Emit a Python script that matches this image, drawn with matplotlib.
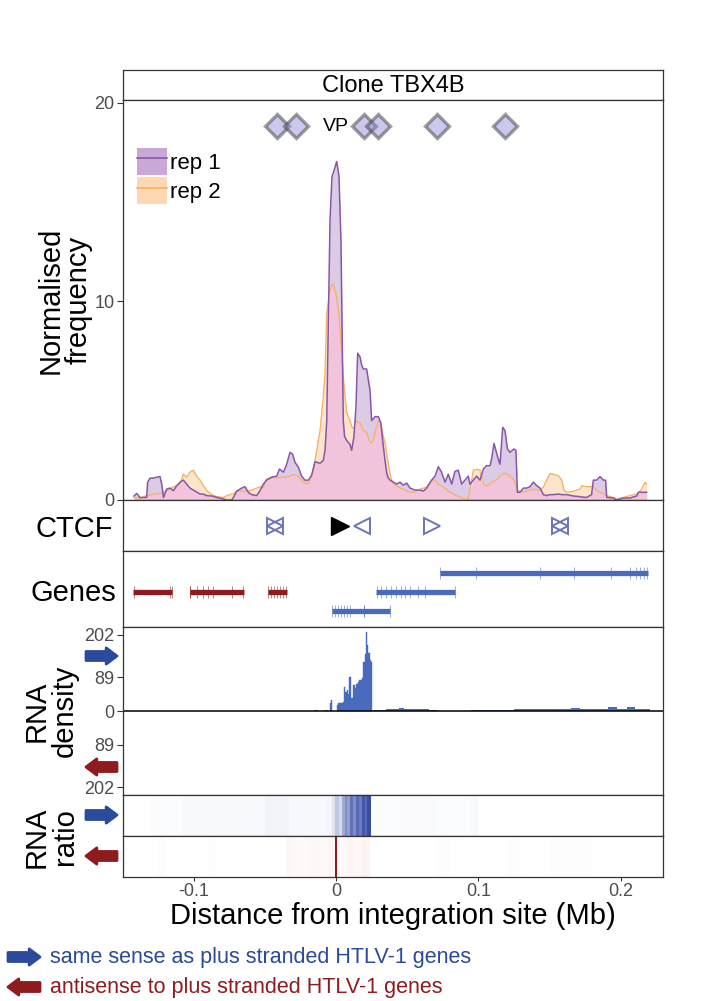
import numpy as np
import matplotlib
matplotlib.use("Agg")
import matplotlib.pyplot as plt
from matplotlib.patches import Patch, FancyArrowPatch
from matplotlib.lines import Line2D

plt.rcParams['font.family'] = ['Liberation Sans', 'DejaVu Sans']

# 4C profile around the integration site (Mb), two replicates
pos_mb = [-0.1418, -0.1399, -0.1376, -0.1340, -0.1329, -0.1322, -0.1305, -0.1282, -0.1258, -0.1235,
          -0.1223, -0.1211, -0.1188, -0.1165, -0.1141, -0.1118, -0.1095, -0.1071, -0.1048, -0.1025,
          -0.1001, -0.0978, -0.0954, -0.0931, -0.0907, -0.0872, -0.0837, -0.0790, -0.0767, -0.0732,
          -0.0720, -0.0697, -0.0662, -0.0639, -0.0615, -0.0592, -0.0557, -0.0533, -0.0510, -0.0487,
          -0.0451, -0.0416, -0.0397, -0.0369, -0.0346, -0.0323, -0.0304, -0.0288, -0.0264, -0.0241,
          -0.0218, -0.0194, -0.0171, -0.0147, -0.0112, -0.0089, -0.0077, -0.0065, -0.0042, -0.0028,
          -0.0018, 0.0005, 0.0021, 0.0035, 0.0051, 0.0060, 0.0075, 0.0098, 0.0110, 0.0126,
          0.0140, 0.0152, 0.0169, 0.0180, 0.0192, 0.0215, 0.0239, 0.0250, 0.0262, 0.0274,
          0.0297, 0.0314, 0.0332, 0.0344, 0.0356, 0.0367, 0.0379, 0.0391, 0.0402, 0.0426,
          0.0449, 0.0473, 0.0496, 0.0520, 0.0555, 0.0589, 0.0613, 0.0636, 0.0671, 0.0695,
          0.0718, 0.0741, 0.0765, 0.0788, 0.0812, 0.0835, 0.0858, 0.0882, 0.0905, 0.0928,
          0.0940, 0.0964, 0.0987, 0.1011, 0.1034, 0.1057, 0.1081, 0.1092, 0.1109, 0.1133,
          0.1151, 0.1170, 0.1186, 0.1203, 0.1221, 0.1249, 0.1263, 0.1273, 0.1292, 0.1315,
          0.1338, 0.1362, 0.1385, 0.1409, 0.1432, 0.1455, 0.1479, 0.1502, 0.1525, 0.1560,
          0.1584, 0.1600, 0.1619, 0.1666, 0.1713, 0.1724, 0.1759, 0.1794, 0.1806, 0.1829,
          0.1853, 0.1876, 0.1892, 0.1900, 0.1946, 0.1970, 0.2017, 0.2063, 0.2110, 0.2122,
          0.2145, 0.2169, 0.2180]
rep1 = [0.2, 0.33, 0.13, 0.13, 0.13, 0.9, 1.1, 1.1, 1.15, 1.18,
        0.8, 0.13, 0.55, 0.6, 0.47, 0.72, 0.9, 1.0, 0.8, 0.6,
        0.5, 0.4, 0.3, 0.3, 0.22, 0.2, 0.13, 0.05, 0.0, 0.0,
        0.13, 0.45, 0.6, 0.67, 0.38, 0.27, 0.22, 0.47, 0.8, 1.0,
        1.15, 1.2, 1.56, 1.4, 1.8, 2.4, 2.3, 1.9, 1.65, 1.2,
        1.0, 1.0, 1.25, 1.93, 1.85, 2.0, 2.5, 4.0, 14.1, 16.3,
        16.5, 17.05, 16.3, 13.0, 4.0, 3.2, 3.0, 2.8, 2.5, 3.2,
        4.7, 7.4, 7.2, 6.8, 6.6, 6.6, 5.5, 4.0, 4.1, 4.2,
        4.2, 3.9, 2.7, 2.0, 1.35, 1.1, 1.0, 0.95, 0.9, 0.8,
        0.9, 0.75, 0.85, 0.6, 0.5, 0.5, 0.45, 0.6, 1.0, 1.2,
        1.68, 1.4, 0.9, 1.3, 0.8, 1.44, 1.5, 0.8, 1.0, 1.2,
        0.8, 1.0, 1.2, 1.0, 1.56, 1.73, 1.73, 2.07, 2.85, 2.2,
        1.8, 3.66, 3.5, 2.57, 2.4, 2.57, 2.5, 0.39, 0.39, 0.6,
        0.6, 0.67, 0.9, 0.72, 0.6, 0.27, 0.22, 0.27, 0.27, 0.3,
        0.27, 0.27, 0.27, 0.2, 0.17, 0.15, 0.13, 0.27, 1.0, 1.0,
        1.18, 1.0, 1.0, 0.13, 0.1, 0.0, 0.1, 0.1, 0.2, 0.39,
        0.39, 0.39, 0.39]
rep2 = [0.13, 0.1, 0.05, 0.2, 0.2, 0.22, 0.25, 0.3, 0.3, 0.33,
        0.35, 0.38, 0.47, 0.55, 0.67, 0.72, 0.8, 1.3, 1.15, 1.4,
        1.5, 1.2, 1.0, 0.72, 0.47, 0.27, 0.17, 0.13, 0.22, 0.3,
        0.3, 0.45, 0.45, 0.43, 0.45, 0.5, 0.6, 0.67, 0.6, 1.05,
        1.15, 1.1, 1.15, 1.15, 1.15, 1.2, 1.28, 1.25, 1.2, 1.0,
        0.85, 0.8, 1.2, 2.0, 3.5, 5.2, 6.4, 9.4, 10.6, 10.8,
        10.9, 10.2, 9.3, 8.0, 6.2, 5.5, 4.4, 4.0, 3.7, 3.6,
        4.0, 3.9, 3.9, 3.7, 3.5, 3.4, 2.9, 2.9, 3.0, 3.4,
        4.0, 3.9, 3.2, 2.9, 2.3, 1.85, 1.3, 1.0, 0.85, 0.7,
        0.6, 0.55, 0.45, 0.4, 0.4, 0.55, 0.6, 0.65, 1.0, 1.0,
        0.8, 0.7, 0.6, 0.45, 0.35, 0.25, 0.2, 0.1, 0.05, 0.05,
        0.47, 1.5, 1.55, 1.5, 0.8, 0.7, 0.8, 0.9, 0.95, 1.05,
        1.23, 1.3, 1.34, 1.3, 1.2, 1.0, 0.7, 0.5, 0.44, 0.4,
        0.45, 0.5, 0.55, 0.5, 0.5, 0.65, 1.0, 1.34, 1.3, 1.23,
        1.0, 0.5, 0.39, 0.44, 0.55, 0.72, 0.67, 0.67, 0.67, 0.47,
        0.39, 0.34, 0.25, 0.22, 0.13, 0.05, 0.13, 0.22, 0.3, 0.34,
        0.55, 0.89, 0.8]

# viewpoint fragments and CTCF sites
vp_fragments = [-0.0417, -0.0282, 0.0194, 0.0292, 0.0707, 0.1183]
ctcf_pos = [-0.0428, -0.0428, 0.0182, 0.0674, 0.157, 0.157]
ctcf_strand = ['+', '-', '-', '+', '+', '-']
site_pos = 0.003

# genes: row 3 top, row 1 bottom
gene_start = [-0.1425, -0.1025, -0.0477, 0.073, 0.028, -0.0028]
gene_end = [-0.115, -0.0646, -0.0344, 0.219, 0.0835, 0.0379]
gene_row = [2, 2, 2, 3, 2, 1]
gene_strand = ['-', '-', '-', '+', '+', '+']
gene_exons = [
    [-0.1421, -0.1165, -0.1151],
    [-0.1025, -0.1022, -0.0975, -0.0933, -0.0898, -0.0863, -0.073, -0.065],
    [-0.0477, -0.0456, -0.0435, -0.0414, -0.0393, -0.0372, -0.0351],
    [0.073, 0.0982, 0.1432, 0.167, 0.193, 0.2063, 0.2105, 0.2133, 0.2161, 0.2182],
    [0.0288, 0.0316, 0.0351, 0.0386, 0.0421, 0.0456, 0.0484, 0.0519, 0.0575, 0.0625, 0.0835],
    [-0.0028, -0.0007, 0.0014, 0.0035, 0.0056, 0.0077, 0.0098, 0.0196, 0.0198, 0.0379],
]

# RNA-seq density, plus strand (no reads on minus strand in this window)
peak_x = [-0.0040, -0.0030, 0.0012, 0.0022, 0.0032, 0.0042, 0.0052, 0.0060, 0.0070, 0.0080,
          0.0090, 0.0098, 0.0108, 0.0118, 0.0128, 0.0138, 0.0148, 0.0158, 0.0168, 0.0178,
          0.0188, 0.0198, 0.0206, 0.0214, 0.0222, 0.0230, 0.0238, 0.0245]
peak_h = [20, 28, 15, 20, 22, 22, 24, 65, 50, 56,
          45, 91, 34, 34, 69, 62, 73, 76, 82, 82,
          87, 131, 150, 211, 175, 155, 135, 130]
bg_x = [-0.022, -0.018, -0.014, -0.010, -0.007,
        0.028, 0.031, 0.034, 0.037, 0.040, 0.043, 0.046, 0.049, 0.052, 0.055,
        0.058, 0.061, 0.064, 0.067, 0.070,
        0.098, 0.104, 0.110, 0.116, 0.122, 0.128, 0.134, 0.140, 0.146, 0.152,
        0.158, 0.164, 0.168, 0.172, 0.178, 0.184, 0.190, 0.194, 0.198, 0.204,
        0.207, 0.210, 0.214, 0.217]
bg_h = [1, 1, 1.5, 1, 2,
        2, 3, 3, 4, 6, 5, 7, 5, 6, 4,
        5, 6, 4, 3, 3,
        3, 3, 3, 3, 3, 4, 4, 4, 4, 4,
        4, 5, 8, 5, 5, 5, 5, 10, 5, 5,
        10, 6, 5, 5]
density_ticks = [202, 89]

# RNA ratio tiles (left, right, intensity 0-1)
plus_left = [-0.130, -0.108, -0.050, -0.033, -0.006, -0.003, -0.001, 0.002, 0.004, 0.006,
             0.008, 0.010, 0.012, 0.014, 0.016, 0.018, 0.020, 0.022, 0.0245, 0.045, 0.070, 0.095]
plus_right = [-0.108, -0.050, -0.033, -0.006, -0.003, -0.001, 0.002, 0.004, 0.006, 0.008,
              0.010, 0.012, 0.014, 0.016, 0.018, 0.020, 0.022, 0.0245, 0.045, 0.070, 0.095, 0.100]
plus_ratio = [0.015, 0.03, 0.06, 0.035, 0.05, 0.15, 0.3, 0.2, 0.45, 0.6,
              0.5, 0.75, 0.6, 0.8, 0.7, 0.9, 0.8, 0.95, 0.015, 0.025, 0.015, 0.03]
minus_left = [-0.125, -0.090, -0.035, -0.030, -0.020, -0.015, -0.005, -0.0005, 0.0005, 0.008,
              0.012, 0.018, 0.070, 0.120, 0.150]
minus_right = [-0.120, -0.085, -0.030, -0.020, -0.015, -0.005, -0.0005, 0.0005, 0.008, 0.012,
               0.018, 0.024, 0.080, 0.130, 0.180]
minus_ratio = [0.02, 0.015, 0.05, 0.03, 0.05, 0.035, 0.06, 1.0, 0.04, 0.07,
               0.05, 0.08, 0.012, 0.012, 0.012]

xticks = [-0.1, 0, 0.1, 0.2]
xtick_labels = ['-0.1', '0', '0.1', '0.2']

# ---- colours ----
purple = '#8856a7'
orange = '#f6b26b'
lavender = '#dccbe6'
peach = '#fde5cb'
pink = '#f1c4dc'
sense_blue = '#2b4a9b'
anti_red = '#8e1b1e'
gene_blue = '#4a6bbd'
ctcf_col = '#6b74b8'
tick_grey = '#4d4d4d'
border = '#333333'

W, H = 708, 1001
fig = plt.figure(figsize=(W / 100, H / 100), dpi=100)
L_PX, R_PX = 123, 663
XLIM = (-0.1495, 0.2295)


def panel(top, bottom):
    ax = fig.add_axes([L_PX / W, 1 - bottom / H, (R_PX - L_PX) / W, (bottom - top) / H])
    ax.set_xlim(*XLIM)
    for s in ax.spines.values():
        s.set_color(border)
        s.set_linewidth(0.9)
    ax.tick_params(axis='x', bottom=False, labelbottom=False)
    ax.tick_params(axis='y', left=False, labelleft=False)
    return ax


def fat_arrow(x0, x1, y, color):
    # pixel coords from top-left -> inches
    a = FancyArrowPatch((x0 / 100, (H - y) / 100), (x1 / 100, (H - y) / 100),
                        transform=fig.dpi_scale_trans,
                        arrowstyle='simple,head_length=0.6,head_width=0.9,tail_width=0.5',
                        mutation_scale=13, color=color, lw=2, joinstyle='round',
                        capstyle='round', shrinkA=0, shrinkB=0)
    fig.add_artist(a)


def ylabel(text, x, y):
    fig.text(x / W, 1 - y / H, text, rotation=90, ha='center', va='center',
             fontsize=21, linespacing=1.0)


# strip
strip = panel(70, 100)
strip.text(0.5, 0.45, 'Clone TBX4B', ha='center', va='center', fontsize=17,
           transform=strip.transAxes)

# main 4C profile
ax = panel(100, 500)
p1 = np.array(rep1)
p2 = np.array(rep2)
ax.fill_between(pos_mb, 0, p1, color=lavender, lw=0)
ax.fill_between(pos_mb, 0, p2, color=peach, lw=0)
ax.fill_between(pos_mb, 0, np.minimum(p1, p2), color=pink, lw=0)
ax.plot(pos_mb, rep2, color=orange, lw=1.0)
ax.plot(pos_mb, rep1, color=purple, lw=1.1)
ax.set_ylim(0, 20.15)
ax.set_yticks([0, 10, 20])
ax.tick_params(axis='y', left=True, labelleft=True, length=4, color=border,
               labelcolor=tick_grey, labelsize=13, pad=2)
ax.plot(vp_fragments, [0.934] * len(vp_fragments), 'D', ms=12,
        mfc=(0.55, 0.53, 0.86, 0.45), mec=(0.3, 0.3, 0.3, 0.55), mew=2.4,
        transform=ax.get_xaxis_transform(), clip_on=False)
ax.text(0.0, 0.934, 'VP', ha='center', va='center', fontsize=14,
        transform=ax.get_xaxis_transform())
handles = [(Patch(facecolor='#c9a8d8', edgecolor='none'), Line2D([], [], color=purple, lw=1.2)),
           (Patch(facecolor='#fdd8b3', edgecolor='none'), Line2D([], [], color=orange, lw=1.2))]
ax.legend(handles, ['rep 1', 'rep 2'], loc='upper left', bbox_to_anchor=(0.026, 0.88),
          frameon=False, fontsize=16, handlelength=1.35, handleheight=1.5,
          handletextpad=0.15, labelspacing=0.1, borderpad=0, borderaxespad=0)
ylabel('Normalised\nfrequency', 65, 300)

# CTCF
ax_c = panel(500, 551)
for x, s in zip(ctcf_pos, ctcf_strand):
    ax_c.plot(x, 0.5, '>' if s == '+' else '<', ms=12, mfc='none', mec=ctcf_col, mew=1.4)
ax_c.plot(site_pos, 0.5, '>', ms=13, color='black')
ax_c.set_ylim(0, 1)
fig.text(113 / W, 1 - 537 / H, 'CTCF', ha='right', va='baseline', fontsize=21)

# genes
ax_g = panel(551, 627)
for x0, x1, row, s, ex in zip(gene_start, gene_end, gene_row, gene_strand, gene_exons):
    col = gene_blue if s == '+' else anti_red
    ax_g.hlines(row, x0, x1, color=col, lw=3.8)
    ax_g.vlines(ex, row - 0.33, row + 0.33, color=col, lw=0.7, alpha=0.55)
ax_g.set_ylim(0.15, 4.15)
fig.text(116 / W, 1 - 601 / H, 'Genes', ha='right', va='baseline', fontsize=21)

# RNA density
ax_d = panel(627, 795)
ax_d.bar(peak_x, peak_h, width=0.00105, color=gene_blue, edgecolor=gene_blue, lw=0.3)
bg_w = np.where(np.array(bg_x) > 0.09, 0.0062, 0.0032)
ax_d.bar(bg_x, bg_h, width=bg_w, color=gene_blue, lw=0)
ax_d.axhline(0, color='black', lw=1.1)
ax_d.set_ylim(-223, 223)
ax_d.set_yticks([density_ticks[0], density_ticks[1], 0, -density_ticks[1], -density_ticks[0]])
ax_d.set_yticklabels([str(density_ticks[0]), str(density_ticks[1]), '0',
                      str(density_ticks[1]), str(density_ticks[0])])
ax_d.tick_params(axis='y', left=True, labelleft=True, length=4, color=border,
                 labelcolor=tick_grey, labelsize=13, pad=2)
ylabel('RNA\ndensity', 51, 711)
fat_arrow(86, 117, 656, sense_blue)
fat_arrow(117, 86, 767, anti_red)

# RNA ratio
ax_rp = panel(795, 836)
ax_rp.bar(plus_left, 1, width=np.array(plus_right) - np.array(plus_left), align='edge',
          color=[matplotlib.colors.to_rgba('#2f43a0', a) for a in plus_ratio], lw=0)
ax_rp.set_ylim(0, 1)
ax_rm = panel(836, 877)
ax_rm.bar(minus_left, 1, width=np.array(minus_right) - np.array(minus_left), align='edge',
          color=[matplotlib.colors.to_rgba(anti_red if a > 0.5 else '#e06a5a', a)
                 for a in minus_ratio], lw=0)
ax_rm.set_ylim(0, 1)
ax_rm.set_xticks(xticks)
ax_rm.set_xticklabels(xtick_labels)
ax_rm.tick_params(axis='x', bottom=True, labelbottom=True, length=3, color=border,
                  labelcolor=tick_grey, labelsize=13, pad=1.5)
ylabel('RNA\nratio', 51, 837)
fat_arrow(86, 117, 815, sense_blue)
fat_arrow(117, 86, 856, anti_red)

fig.text(393 / W, 1 - 916 / H, 'Distance from integration site (Mb)', ha='center', va='center',
         fontsize=21)

# strand key
fat_arrow(8, 40, 957, sense_blue)
fig.text(50 / W, 1 - 957 / H, 'same sense as plus stranded HTLV-1 genes', color=sense_blue,
         ha='left', va='center', fontsize=15.5)
fat_arrow(40, 8, 987, anti_red)
fig.text(50 / W, 1 - 987 / H, 'antisense to plus stranded HTLV-1 genes', color=anti_red,
         ha='left', va='center', fontsize=15.5)

fig.savefig('out.png', dpi=100)
